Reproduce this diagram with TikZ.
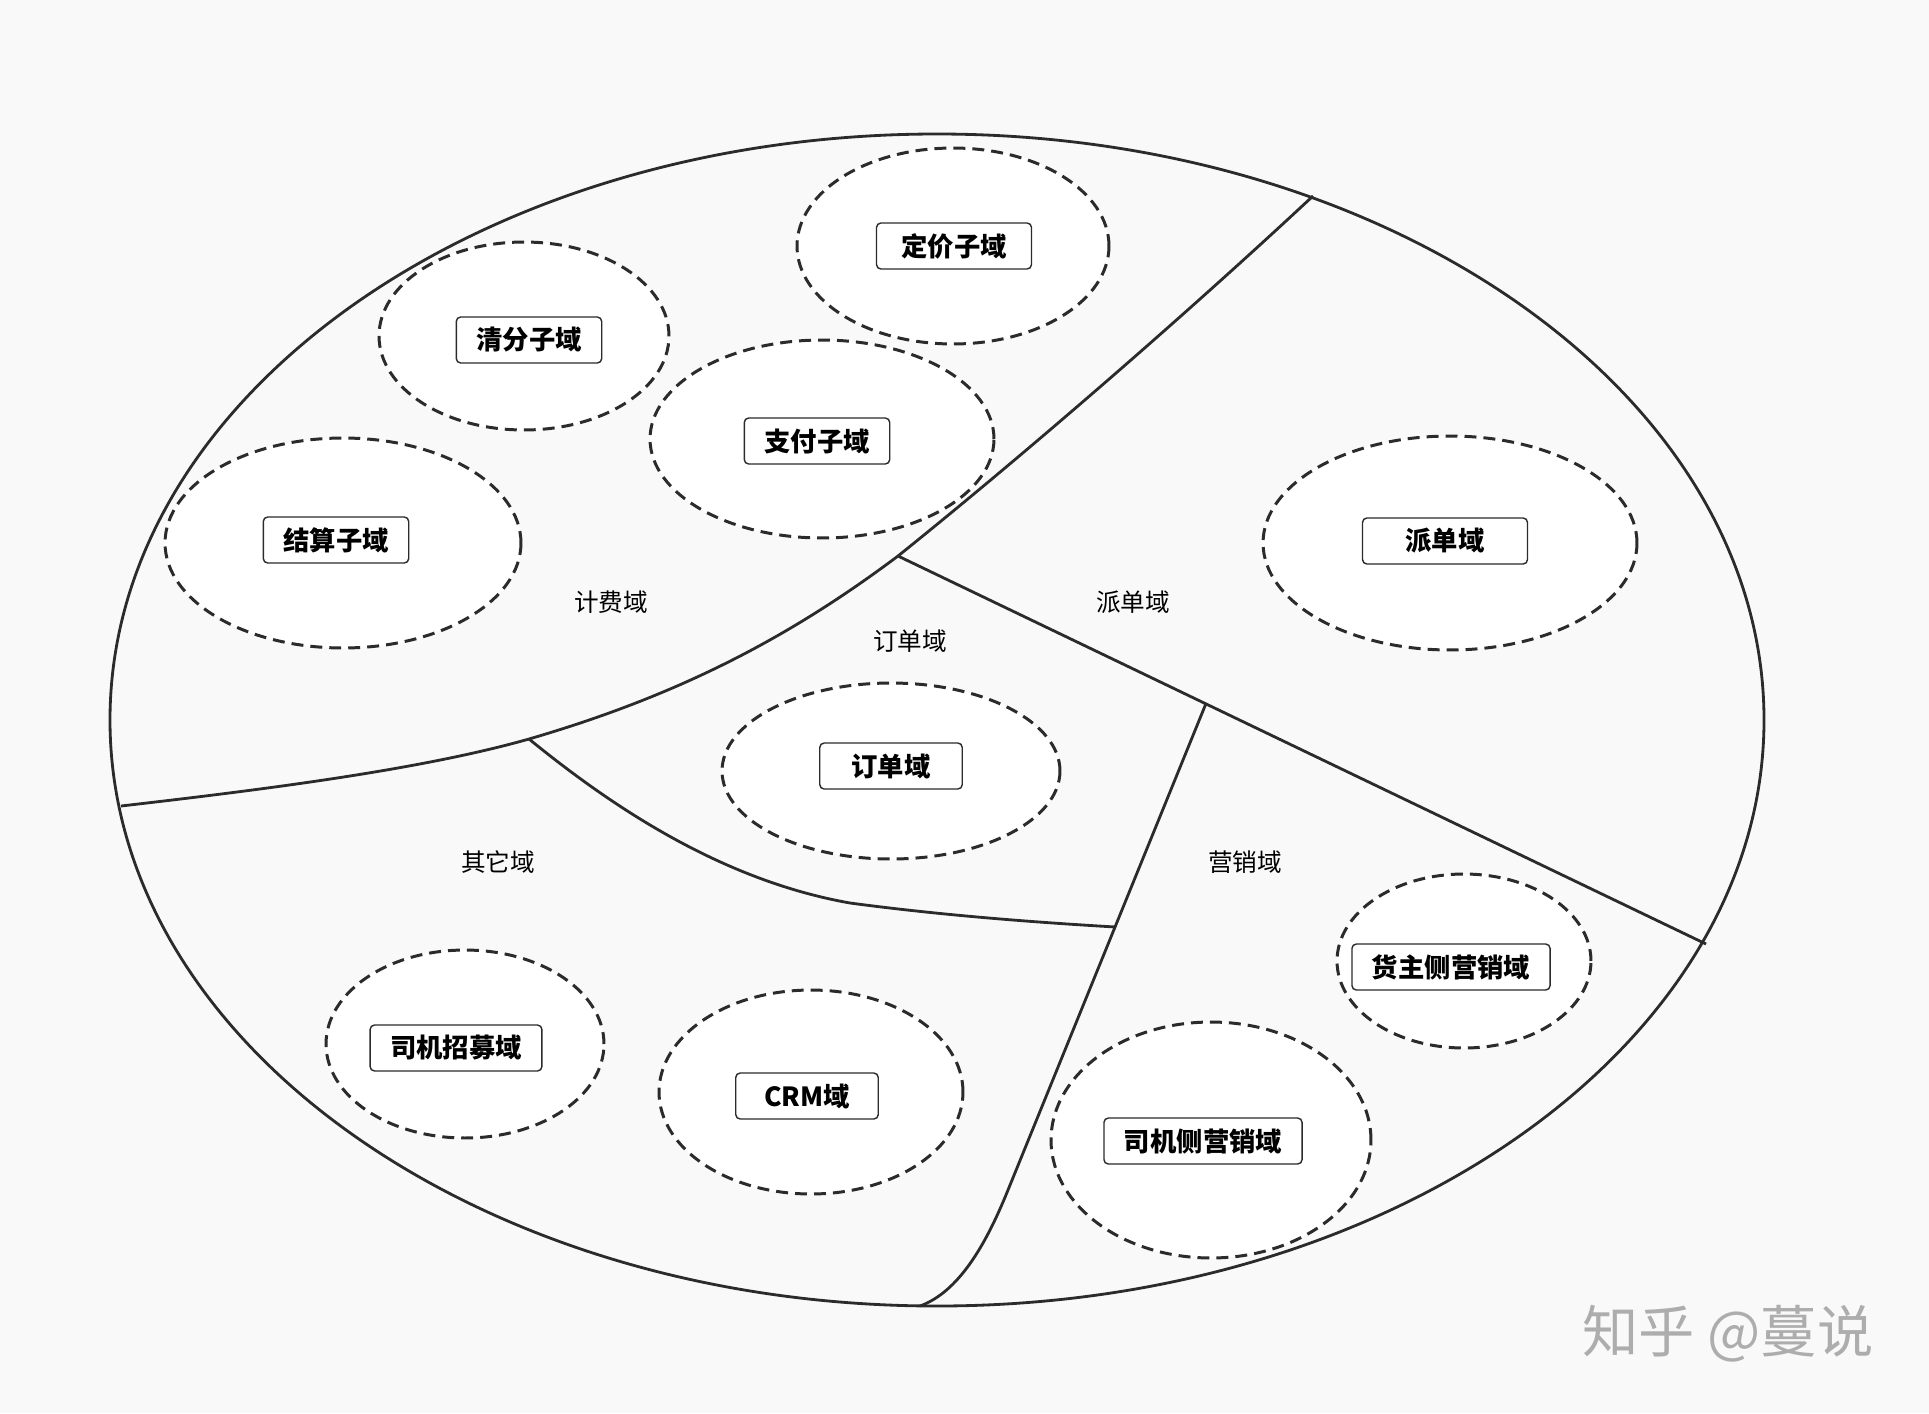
\documentclass[tikz,border=0pt]{standalone}
\usepackage{fontspec}
\setmainfont{Noto Sans CJK SC}
\usetikzlibrary{shapes.geometric}
\usetikzlibrary{calc}
\definecolor{bgcol}{HTML}{F9F9F9}
\definecolor{linecol}{HTML}{2B2B2B}
\definecolor{markgray}{HTML}{ADADAD}

\begin{document}
\begin{tikzpicture}[
    x=0.02cm, y=-0.02cm,
    wall/.style={draw=linecol, line width=1.6pt},
    zone/.style={ellipse, draw=linecol, fill=white, line width=1.7pt, dash pattern=on 6.8pt off 4pt, inner sep=0pt},
    subdom/.style={rectangle, rounded corners=2.5pt, draw=linecol, fill=white, line width=0.8pt, minimum height=0.92cm, minimum width=2.85cm, inner xsep=0.4cm, font=\fontsize{15pt}{18pt}\selectfont\bfseries},
    area/.style={font=\fontsize{14pt}{17pt}\selectfont, text=black}
]
    \useasboundingbox (0,0) rectangle (1929,1413);
    \fill[bgcol] (0,0) rectangle (1929,1413);

    % whole business
    \draw[wall, fill=bgcol] (937,720) ellipse [x radius=827, y radius=586];

    % dashed domains
    \node[zone, minimum width=6.24cm, minimum height=3.92cm] (pricing) at (953,246) {};
    \node[zone, minimum width=5.80cm, minimum height=3.76cm] (clearing) at (524,336) {};
    \node[zone, minimum width=6.88cm, minimum height=3.96cm] (payment) at (822,439) {};
    \node[zone, minimum width=7.12cm, minimum height=4.20cm] (settle) at (343,543) {};
    \node[zone, minimum width=7.48cm, minimum height=4.28cm] (dispatch) at (1450,543) {};
    \node[zone, minimum width=6.76cm, minimum height=3.52cm] (order) at (891,771) {};
    \node[zone, minimum width=5.56cm, minimum height=3.76cm] (recruit) at (465,1044) {};
    \node[zone, minimum width=6.08cm, minimum height=4.08cm] (crm) at (811,1092) {};
    \node[zone, minimum width=5.08cm, minimum height=3.48cm] (shipper) at (1464,961) {};
    \node[zone, minimum width=6.40cm, minimum height=4.72cm] (driver) at (1211,1140) {};

    % borders between areas
    \coordinate (aL) at (121,806);
    \coordinate (j2) at (529,739);
    \coordinate (j1) at (898,556);
    \coordinate (aT) at (1313,196);
    \coordinate (dR) at (1706,944);
    \coordinate (jm) at ($(j1)!0.381!(dR)$);
    \coordinate (cK) at (1008,1190);
    \coordinate (jb) at ($(jm)!0.459!(cK)$);
    \coordinate (cB) at (920,1306);

    \draw[wall] (aL) .. controls (260,790) and (420,770) .. (j2)
        .. controls (680,695) and (790,637) .. (j1)
        .. controls (1020,458) and (1180,320) .. (aT);
    \draw[wall] (j1) -- (dR);
    \draw[wall] (j2) .. controls (610,805) and (720,880) .. (850,903)
        .. controls (940,915) and (1030,922) .. (jb);
    \draw[wall] (jm) -- (cK) .. controls (985,1247) and (958,1292) .. (cB);

    % sub domain boxes
    \node[subdom, minimum width=3.1cm] (pricingbox) at (954,246) {定价子域};
    \node[subdom] (clearingbox) at (529,340) {清分子域};
    \node[subdom] (paymentbox) at (817,441) {支付子域};
    \node[subdom] (settlebox) at (336,540) {结算子域};
    \node[subdom, minimum width=3.3cm] (dispatchbox) at (1445,541) {派单域};
    \node[subdom] (orderbox) at (891,766) {订单域};
    \node[subdom] (recruitbox) at (456,1048) {司机招募域};
    \node[subdom] (crmbox) at (807,1096) {CRM域};
    \node[subdom] (shipperbox) at (1451,967) {货主侧营销域};
    \node[subdom] (driverbox) at (1203,1141) {司机侧营销域};

    % area names
    \node[area] (billing) at (611,602) {计费域};
    \node[area] (dispatcharea) at (1133,602) {派单域};
    \node[area] (orderarea) at (910,641) {订单域};
    \node[area] (other) at (498,862) {其它域};
    \node[area] (marketing) at (1245,862) {营销域};

    \node[font=\fontsize{32pt}{36pt}\selectfont, text=markgray] (mark) at (1728,1334) {知乎 @蔓说};
\end{tikzpicture}
\end{document}
